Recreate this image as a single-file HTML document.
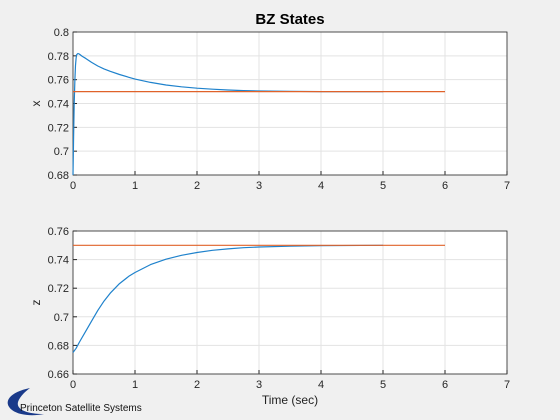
<!DOCTYPE html>
<html><head><meta charset="utf-8"><style>
body{margin:0;background:#f0f0f0;}
svg{display:block;font-family:"Liberation Sans",sans-serif;}
</style></head><body>
<svg width="560" height="420">
<rect width="560" height="420" fill="#f0f0f0"/>
<g id="top"></g>
<g id="bot"></g>
<text x="290" y="24" text-anchor="middle" font-size="15" font-weight="bold" fill="#000">BZ States</text>
<text x="290" y="404" text-anchor="middle" font-size="12" fill="#222">Time (sec)</text>
<g>
<path d="M30 388 C10 392 2 402 12 410 C20 416 34 416 44 414 C28 414 16 410 18 402 C20 396 26 391 30 388 Z" fill="#1a3a8a"/>
<text x="20" y="411" font-size="10" fill="#111">Princeton Satellite Systems</text>
</g>
</svg>
<script>
const tX=[0,0.01,0.02,0.03,0.04,0.05,0.06,0.08,0.1,0.15,0.2,0.3,0.4,0.5,0.6,0.75,0.9,1,1.25,1.5,1.75,2,2.25,2.5,2.75,3,3.5,4,5];
const xVals=[0.68,0.712,0.74,0.76,0.772,0.778,0.781,0.782,0.7815,0.7795,0.778,0.7745,0.7715,0.769,0.767,0.7643,0.762,0.7605,0.7577,0.7555,0.754,0.7528,0.752,0.7513,0.7508,0.7505,0.7502,0.75,0.75];
const tZ=[0,0.05,0.1,0.2,0.3,0.4,0.5,0.6,0.75,0.9,1,1.25,1.5,1.75,2,2.25,2.5,2.75,3,3.5,4,5];
const zVals=[0.675,0.678,0.682,0.6895,0.697,0.7045,0.711,0.7165,0.7232,0.7283,0.731,0.7365,0.7403,0.743,0.745,0.7465,0.7475,0.7483,0.7488,0.7494,0.7497,0.75];
const refT=[0,6];
const refX=[0.75,0.75];
const refZ=[0.75,0.75];
const xTicks=[0,1,2,3,4,5,6,7];
const yTicksTop=[0.68,0.7,0.72,0.74,0.76,0.78,0.8];
const yTicksBot=[0.66,0.68,0.7,0.72,0.74,0.76];
const NS="http://www.w3.org/2000/svg";
function mk(p,tag,a){const e=document.createElementNS(NS,tag);for(const k in a)e.setAttribute(k,a[k]);p.appendChild(e);return e;}
function axes(g,top,bot,ymin,ymax,yt,ylab,series){
 const L=73,R=507;
 const sx=t=>L+(t-0)/7*(R-L);
 const sy=v=>bot-(v-ymin)/(ymax-ymin)*(bot-top);
 const bg=mk(g,'rect',{x:L,y:top,width:R-L,height:bot-top,fill:'#fff',stroke:'none'});
 
 
 xTicks.forEach(t=>{
  const ln=mk(g,'line',{x1:sx(t),x2:sx(t),y1:top,y2:bot,stroke:'#e3e3e3'});
  
  
  mk(g,'line',{x1:sx(t),x2:sx(t),y1:bot,y2:bot-4,stroke:'#262626'});
  const tx=mk(g,'text',{x:sx(t),y:bot+14,'text-anchor':'middle','font-size':11,fill:'#262626'});
  tx.textContent=t;
  
  
 });
 yt.forEach(v=>{
  const ln=mk(g,'line',{x1:L,x2:R,y1:sy(v),y2:sy(v),stroke:'#e3e3e3'});
  
  
  mk(g,'line',{x1:L,x2:L+4,y1:sy(v),y2:sy(v),stroke:'#262626'});
  const tx=mk(g,'text',{x:L-4,y:sy(v)+4,'text-anchor':'end','font-size':11,fill:'#262626'});
  tx.textContent=String(v);
  
  
 });
 const fr=mk(g,'rect',{x:L,y:top,width:R-L,height:bot-top,fill:'none',stroke:'#262626','stroke-width':0.8});
 
 
 const yl=mk(g,'text',{x:0,y:0,'text-anchor':'middle','font-size':12,fill:'#262626',transform:`translate(${L-33},${(top+bot)/2}) rotate(-90)`});
 yl.textContent=ylab;
 
 
 series.forEach(s=>{
  const d=s.t.map((t,i)=>(i?'L':'M')+sx(t).toFixed(1)+' '+sy(s.v[i]).toFixed(1)).join(' ');
  const p=mk(g,'path',{d:d,fill:'none',stroke:s.c,'stroke-width':1.2,'stroke-linejoin':'round'});
  
  
 });
}
axes(document.getElementById('top'),32,175,0.68,0.8,yTicksTop,'x',[
 {t:tX,v:xVals,c:'#1f82cc',n:'x-state-line'},{t:refT,v:refX,c:'#e0622a',n:'x-reference-line'}]);
axes(document.getElementById('bot'),231,374,0.66,0.76,yTicksBot,'z',[
 {t:tZ,v:zVals,c:'#1f82cc',n:'z-state-line'},{t:refT,v:refZ,c:'#e0622a',n:'z-reference-line'}]);
</script>
</body></html>
